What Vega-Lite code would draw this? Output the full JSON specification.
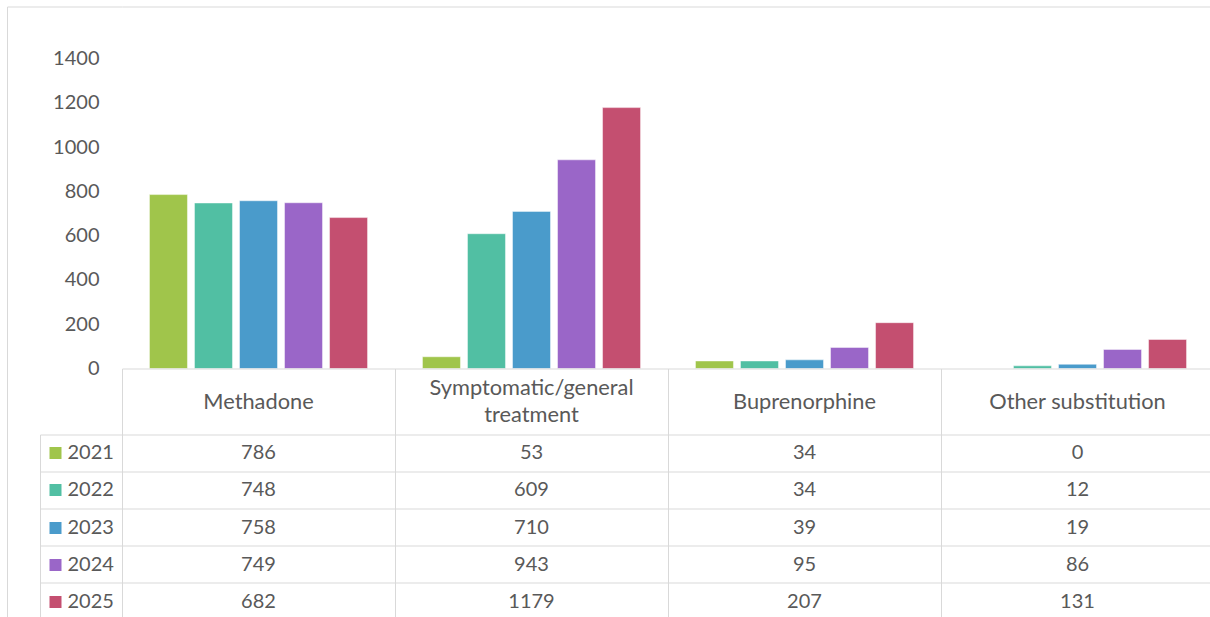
{
  "$schema": "https://vega.github.io/schema/vega-lite/v6.json",
  "background": "white",
  "padding": {"left": 6, "top": 5.5, "right": 0, "bottom": 0},
  "spacing": 0,
  "bounds": "flush",
  "config": {"view": {"stroke": null}, "font": "Lato"},
  "datasets": {
    "table": [
      {"category": "Methadone", "year": "2021", "value": 786},
      {"category": "Methadone", "year": "2022", "value": 748},
      {"category": "Methadone", "year": "2023", "value": 758},
      {"category": "Methadone", "year": "2024", "value": 749},
      {"category": "Methadone", "year": "2025", "value": 682},
      {"category": "Symptomatic/general treatment", "year": "2021", "value": 53},
      {"category": "Symptomatic/general treatment", "year": "2022", "value": 609},
      {"category": "Symptomatic/general treatment", "year": "2023", "value": 710},
      {"category": "Symptomatic/general treatment", "year": "2024", "value": 943},
      {"category": "Symptomatic/general treatment", "year": "2025", "value": 1179},
      {"category": "Buprenorphine", "year": "2021", "value": 34},
      {"category": "Buprenorphine", "year": "2022", "value": 34},
      {"category": "Buprenorphine", "year": "2023", "value": 39},
      {"category": "Buprenorphine", "year": "2024", "value": 95},
      {"category": "Buprenorphine", "year": "2025", "value": 207},
      {"category": "Other substitution", "year": "2021", "value": 0},
      {"category": "Other substitution", "year": "2022", "value": 12},
      {"category": "Other substitution", "year": "2023", "value": 19},
      {"category": "Other substitution", "year": "2024", "value": 86},
      {"category": "Other substitution", "year": "2025", "value": 131}
    ],
    "cats": [
      {"category": "Methadone", "label": "Methadone", "part": "header"},
      {"category": "Symptomatic/general treatment", "label": "Symptomatic/general\ntreatment", "part": "header"},
      {"category": "Buprenorphine", "label": "Buprenorphine", "part": "header"},
      {"category": "Other substitution", "label": "Other substitution", "part": "header"}
    ]
  },
  "vconcat": [
    {
      "width": 1092,
      "height": 362,
      "data": {"name": "table"},
      "mark": {"type": "bar", "stroke": "white", "strokeOpacity": 0.45, "strokeWidth": 1},
      "encoding": {
        "x": {
          "field": "category", "type": "nominal",
          "scale": {"type": "band", "domain": ["Methadone", "Symptomatic/general treatment", "Buprenorphine", "Other substitution"], "paddingInner": 0, "paddingOuter": 0},
          "axis": null
        },
        "xOffset": {
          "field": "year", "type": "nominal",
          "scale": {"domain": ["2021", "2022", "2023", "2024", "2025"], "paddingInner": 0.156, "paddingOuter": 0.61}
        },
        "y": {
          "field": "value", "type": "quantitative",
          "scale": {"domain": [0, 1636], "nice": false},
          "axis": {
            "values": [0, 200, 400, 600, 800, 1000, 1200, 1400, 1636],
            "format": "d",
            "offset": 115,
            "title": null,
            "domain": true, "domainColor": "#D9D9D9", "domainWidth": 1,
            "ticks": true, "tickSize": -115, "tickWidth": 1,
            "tickColor": {"condition": {"test": "datum.value > 1500", "value": "#D9D9D9"}, "value": "transparent"},
            "grid": true, "gridWidth": 1,
            "gridColor": {"condition": {"test": "datum.value > 1500", "value": "#D9D9D9"}, "value": "transparent"},
            "labelExpr": "datum.value > 1500 ? '' : datum.label",
            "labelFontSize": {"condition": {"test": "datum.value > 1500", "value": 0}, "value": 20},
            "labelPadding": 23, "labelAlign": "right", "labelBaseline": "middle",
            "labelFont": "Lato", "labelColor": "#595959",
            "labelOverlap": false
          }
        },
        "color": {
          "field": "year", "type": "nominal",
          "scale": {"domain": ["2021", "2022", "2023", "2024", "2025"], "range": ["#A0C54B", "#51BFA3", "#4A9BCB", "#9A66C8", "#C44F70"]},
          "legend": null
        }
      }
    },
    {
      "width": 1092,
      "height": 66,
      "data": {"name": "cats"},
      "encoding": {
        "x": {
          "field": "category", "type": "nominal",
          "scale": {"type": "band", "domain": ["Methadone", "Symptomatic/general treatment", "Buprenorphine", "Other substitution"], "paddingInner": 0, "paddingOuter": 0},
          "axis": {"orient": "top", "title": null, "labels": false, "ticks": false, "domain": true, "domainColor": "#D9D9D9", "grid": true, "gridColor": "#D9D9D9", "bandPosition": 0}
        },
        "y": {
          "field": "part", "type": "nominal",
          "scale": {"type": "band", "paddingInner": 0, "paddingOuter": 0},
          "axis": {"offset": 115, "title": null, "labels": false, "ticks": false, "grid": false, "domain": true, "domainColor": "#D9D9D9"}
        },
        "text": {"field": "label"}
      },
      "layer": [
        {
          "transform": [{"filter": "indexof(datum.label, '\\n') < 0"}],
          "mark": {"type": "text", "font": "Lato", "fontSize": 21.8, "color": "#595959", "baseline": "middle", "align": "center"}
        },
        {
          "transform": [{"filter": "indexof(datum.label, '\\n') >= 0"}],
          "mark": {"type": "text", "font": "Lato", "fontSize": 21.8, "color": "#595959", "lineBreak": "\n", "lineHeight": 27, "baseline": "middle", "align": "center", "dy": -13.5}
        }
      ]
    },
    {
      "width": 1092,
      "height": 186,
      "data": {"name": "table"},
      "resolve": {"axis": {"y": "independent"}},
      "layer": [
        {
          "mark": {"type": "text", "font": "Lato", "fontSize": 20, "color": "#595959", "baseline": "middle", "align": "center"},
          "encoding": {
            "x": {
              "field": "category", "type": "nominal",
              "scale": {"type": "band", "domain": ["Methadone", "Symptomatic/general treatment", "Buprenorphine", "Other substitution"], "paddingInner": 0, "paddingOuter": 0},
              "axis": {"orient": "top", "title": null, "labels": false, "ticks": false, "domain": false, "grid": true, "gridColor": "#D9D9D9", "bandPosition": 0}
            },
            "y": {
              "field": "year", "type": "nominal",
              "scale": {"type": "band", "domain": ["2021", "2022", "2023", "2024", "2025"], "paddingInner": 0, "paddingOuter": 0},
              "axis": {"orient": "left", "offset": 82, "title": null, "labels": false, "bandPosition": 0, "ticks": true, "tickSize": -82, "tickColor": "#D9D9D9", "tickWidth": 1, "grid": true, "gridColor": "#D9D9D9", "domain": true, "domainColor": "#D9D9D9"}
            },
            "text": {"field": "value", "type": "quantitative"}
          }
        },
        {
          "mark": {"type": "text", "opacity": 0},
          "encoding": {
            "y": {
              "field": "year", "type": "nominal",
              "axis": {"orient": "left", "offset": 115, "title": null, "labels": false, "ticks": false, "grid": false, "domain": true, "domainColor": "#D9D9D9"}
            },
            "text": {"value": ""}
          }
        },
        {
          "mark": {"type": "text", "opacity": 0},
          "encoding": {
            "y": {
              "field": "year", "type": "nominal",
              "axis": {
                "orient": "left", "offset": 61, "title": null, "domain": false, "grid": false,
                "ticks": true, "tickSize": 12, "tickWidth": 12,
                "tickColor": {"condition": [
                  {"test": "datum.value === '2021'", "value": "#A0C54B"},
                  {"test": "datum.value === '2022'", "value": "#51BFA3"},
                  {"test": "datum.value === '2023'", "value": "#4A9BCB"},
                  {"test": "datum.value === '2024'", "value": "#9A66C8"}
                ], "value": "#C44F70"},
                "labelPadding": -18, "labelAlign": "left", "labelBaseline": "middle",
                "labelFont": "Lato", "labelFontSize": 20, "labelColor": "#595959"
              }
            },
            "text": {"value": ""}
          }
        }
      ]
    }
  ]
}
